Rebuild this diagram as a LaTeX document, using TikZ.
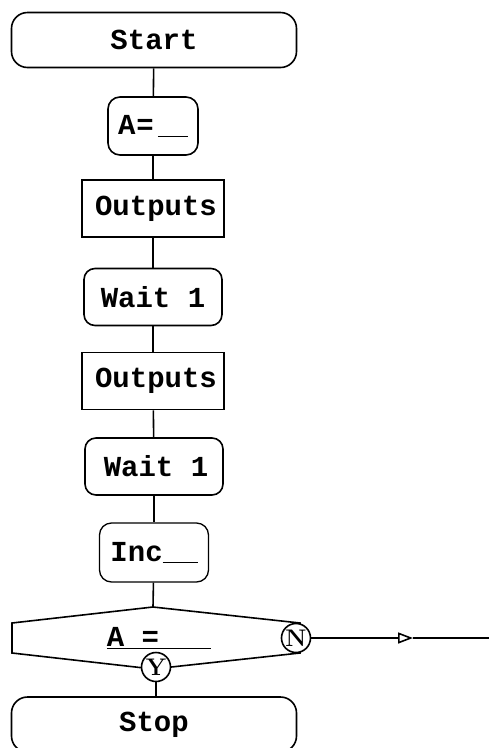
\documentclass[tikz,border=0pt]{standalone}
\usepackage{fontspec}
\setmonofont{Liberation Mono}
\usetikzlibrary{positioning,arrows.meta}

\tikzset{
    flowline/.style={line width=1.6pt},
    boxtext/.style={font=\ttfamily\bfseries\fontsize{29}{31}\selectfont},
    terminal/.style={draw, flowline, boxtext, rounded corners=16pt, minimum width=285pt, minimum height=55pt},
    setbox/.style={draw, flowline, boxtext, rounded corners=12pt, minimum width=90pt, minimum height=58pt, inner sep=0pt},
    outbox/.style={draw, flowline, boxtext, rectangle, minimum width=142pt, minimum height=57pt, inner sep=0pt},
    waitbox/.style={draw, flowline, boxtext, rounded corners=11pt, minimum width=138pt, minimum height=57pt, inner sep=0pt},
    incbox/.style={draw, line width=1.3pt, boxtext, rounded corners=12pt, minimum width=109pt, minimum height=59pt, inner sep=0pt},
    yesno/.style={draw, flowline, circle, fill=white, inner sep=0pt, minimum size=29pt, font=\rmfamily\bfseries\fontsize{24}{24}\selectfont}
}

\begin{document}
\begin{tikzpicture}[x=1pt, y=-1pt]
    \useasboundingbox (0,0) rectangle (489,748);

    % Main sequence
    \node[terminal] (start) at (154,40) {Start};
    \node[setbox] (aset) at (153,126) {A\kern1pt=\kern4pt\underline{\hspace{30pt}}};
    \node[outbox] (out1) at (153,208.5) {\kern6pt Outputs};
    \node[waitbox] (wait1) at (153,297) {Wait 1};
    \node[outbox] (out2) at (153,381) {\kern6pt Outputs};
    \node[waitbox] (wait2) at (154,466.5) {\kern4pt Wait 1};
    \node[incbox] (inc) at (154,552.5) {Inc\underline{\ \ }};

    % Decision
    \coordinate (dtop) at (153,607);
    \draw[flowline] (12,623) -- (dtop) -- (300,623) -- (300,653) -- (153,669) -- (12,653) -- cycle;
    \node[boxtext] (test) at (159,638) {\underline{A =\ \ \ }};
    \node[yesno] (yes) at (156,667) {Y};
    \node[yesno] (no) at (296,638) {N};

    % End
    \node[terminal] (stop) at (154,724.5) {Stop};

    % Connections
    \draw[flowline] (start) -- (aset);
    \draw[flowline] (aset) -- (out1);
    \draw[flowline] (out1) -- (wait1);
    \draw[flowline] (wait1) -- (out2);
    \draw[flowline] (out2) -- (wait2);
    \draw[flowline] (wait2) -- (inc);
    \draw[flowline] (inc) -- (dtop);
    \draw[flowline] (yes) -- (yes |- stop.north);

    % No branch
    \coordinate (nmid) at (413,638);
    \coordinate (nexit) at (489,638);
    \draw[flowline, -{Triangle[open, length=15pt, width=11pt, line width=1.6pt]}] (no) -- (nmid);
    \draw[flowline] (nmid) -- (nexit);
\end{tikzpicture}
\end{document}
